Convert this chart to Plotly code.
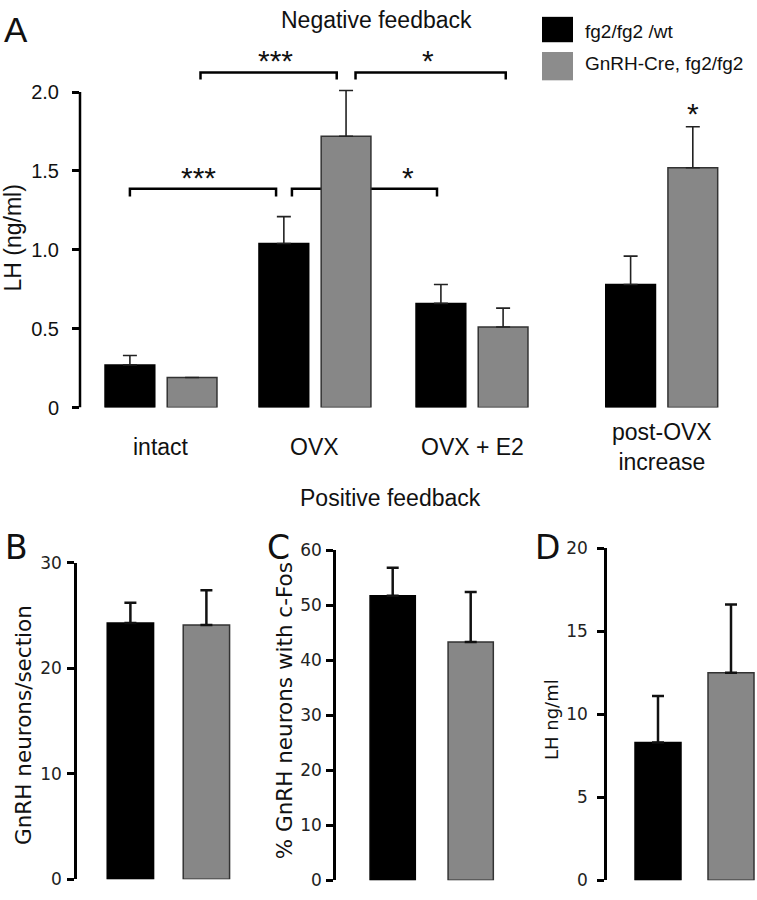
import plotly.graph_objects as go

# ---- data ----
groups_a = ["intact", "OVX", "OVX + E2", "post-OVX<br>increase"]
wt_lh = [0.27, 1.04, 0.66, 0.78]
wt_sem = [0.06, 0.17, 0.12, 0.18]
cre_lh = [0.19, 1.72, 0.51, 1.52]
cre_sem = [0.0, 0.29, 0.12, 0.26]

neurons = [24.3, 24.1]          # B: GnRH neurons/section
neurons_sem = [1.9, 3.3]
cfos = [51.7, 43.3]             # C: % GnRH neurons with c-Fos
cfos_sem = [5.1, 9.1]
lh_surge = [8.3, 12.5]          # D: LH ng/ml
lh_surge_sem = [2.8, 4.1]

W, H = 757, 900
BLACK = "#000000"
GRAY = "#878787"
ARIAL = "Liberation Sans, Arial, sans-serif"
VERD = "DejaVu Sans, Verdana, sans-serif"


def px(x):
    return x / W


def py(y):
    return 1 - y / H


fig = go.Figure()

# ---- panel A ----
pos_a = [0, 0.99, 2.0, 3.22]
bw = 0.32
for vals, sem, col, lc, off in [(wt_lh, wt_sem, BLACK, BLACK, -0.36),
                                (cre_lh, cre_sem, GRAY, "#333333", 0.04)]:
    fig.add_trace(go.Bar(
        x=pos_a, y=vals, width=bw, offset=off,
        marker=dict(color=col, line=dict(color=lc, width=1.5)),
        error_y=dict(type="data", symmetric=False,
                     array=[s if s > 0 else None for s in sem],
                     arrayminus=[0] * len(sem),
                     color="#222222", thickness=1.6, width=7),
        xaxis="x", yaxis="y", showlegend=False))

# ---- panels B, C, D ----
bottom = [("2", neurons, neurons_sem, 0.61),
          ("3", cfos, cfos_sem, 0.58),
          ("4", lh_surge, lh_surge_sem, 0.63)]
for ax, vals, sem, w in bottom:
    fig.add_trace(go.Bar(
        x=[0, 1], y=vals, width=w,
        marker=dict(color=[BLACK, GRAY], line=dict(color=[BLACK, "#333333"], width=1.5)),
        error_y=dict(type="data", symmetric=False, array=sem, arrayminus=[0, 0],
                     color="#111111", thickness=2.5, width=6),
        xaxis="x" + ax, yaxis="y" + ax, showlegend=False))

unit_a = 155.5
yunit_a = 161.5
noax = dict(showgrid=False, zeroline=False, showticklabels=False, ticks="", showline=False)

fig.update_layout(
    width=W, height=H, autosize=False,
    margin=dict(l=0, r=0, t=0, b=0),
    paper_bgcolor="white", plot_bgcolor="white",
    barmode="overlay",
    xaxis=dict(domain=[px(80), 1], range=[(80 - 161) / unit_a, (757 - 161) / unit_a],
               anchor="y", **noax),
    yaxis=dict(domain=[py(407), py(39)], range=[0, (407 - 39) / yunit_a], anchor="x",
               tickvals=[0, 0.5, 1, 1.5, 2], ticktext=["0", "0.5", "1.0", "1.5", "2.0"],
               ticks="outside", ticklen=7, tickwidth=2.5, tickcolor="black",
               ticklabelstandoff=9,
               tickfont=dict(family=ARIAL, size=20, color="#111111"),
               showgrid=False, zeroline=False, showline=False),
    xaxis2=dict(domain=[px(77), px(265)], range=[(77 - 130.4) / 76, (265 - 130.4) / 76],
                anchor="y2", **noax),
    yaxis2=dict(domain=[py(890), py(566)], range=[0, 30], anchor="x2",
                tickvals=[0, 10, 20, 30]),
    xaxis3=dict(domain=[px(336), px(525)], range=[(336 - 392.7) / 78, (525 - 392.7) / 78],
                anchor="y3", **noax),
    yaxis3=dict(domain=[py(891), py(553)], range=[0, 60], anchor="x3",
                tickvals=[0, 10, 20, 30, 40, 50, 60]),
    xaxis4=dict(domain=[px(607), 1], range=[(607 - 658) / 73, (757 - 658) / 73],
                anchor="y4", **noax),
    yaxis4=dict(domain=[py(891), py(551)], range=[0, 20], anchor="x4",
                tickvals=[0, 5, 10, 15, 20]),
)
for name, so in [("yaxis2", 2), ("yaxis3", 1), ("yaxis4", 6)]:
    fig.layout[name].update(
        ticks="outside", ticklen=7, tickwidth=2.5, tickcolor="black",
        showline=True, linewidth=2.5, linecolor="black",
        ticklabelstandoff=so,
        tickfont=dict(family=VERD, size=17, color="#222222"),
        showgrid=False, zeroline=False)

shapes = []
# panel A axis line, only up to 2.0
shapes.append(dict(type="line", xref="x domain", yref="y", x0=0, x1=0, y0=0, y1=2.0,
                   line=dict(color="black", width=2.5)))


def bracket(x0, x1, y, drop):
    return dict(type="path", xref="x", yref="y", layer="below",
                path=f"M {x0},{y - drop} L {x0},{y} L {x1},{y} L {x1},{y - drop}",
                line=dict(color="black", width=2.5))


shapes += [bracket(-0.2, 0.74, 1.387, 0.05),
           bracket(0.842, 1.775, 1.387, 0.05),
           bracket(0.254, 1.13, 2.124, 0.045),
           bracket(1.251, 2.217, 2.124, 0.045)]

# legend boxes
shapes.append(dict(type="rect", xref="paper", yref="paper", x0=px(542), x1=px(573),
                   y0=py(33), y1=py(7), fillcolor=BLACK, line=dict(width=0)))
shapes.append(dict(type="rect", xref="paper", yref="paper", x0=px(542), x1=px(573),
                   y0=py(72), y1=py(43), fillcolor="#8c8c8c", line=dict(width=0)))

ann = []


def txt(text, x, y, size, family=ARIAL, xanchor="center", angle=0, xref="paper"):
    ann.append(dict(text=text, x=x, y=py(y), xref=xref, yref="paper", showarrow=False,
                    xanchor=xanchor, yanchor="middle", textangle=angle,
                    font=dict(family=family, size=size, color="#111111")))


txt("Negative feedback", px(376), 10.5, 23)
txt("Positive feedback", px(390), 500, 23)
txt("A", px(2), 20, 35, xanchor="left")
txt("B", px(3), 550, 33, family=VERD, xanchor="left")
txt("C", px(265), 550, 33, family=VERD, xanchor="left")
txt("D", px(533), 550, 33, family=VERD, xanchor="left")
txt("fg2/fg2 /wt", px(583), 22, 19, xanchor="left")
txt("GnRH-Cre, fg2/fg2", px(583), 55, 19, xanchor="left")
txt("LH (ng/ml)", px(13), 234, 23, angle=-90)
txt("GnRH neurons/section", px(24), 732, 21.5, family=VERD, angle=-90)
txt("% GnRH neurons with c-Fos", px(284), 718, 21.5, family=VERD, angle=-90)
txt("LH ng/ml", px(551), 727, 18, family=VERD, angle=-90)
for g, p in zip(groups_a, pos_a):
    txt(g, p, 447, 23, xref="x")

# significance stars
for s, x, y in [("***", 0.244, 1.387), ("*", 1.59, 1.387),
                ("***", 0.735, 2.124), ("*", 1.714, 2.124), ("*", 3.42, 1.79)]:
    ann.append(dict(text=s, x=x, y=y, xref="x", yref="y", showarrow=False,
                    xanchor="center", yanchor="bottom", yshift=-7,
                    font=dict(family=ARIAL, size=30, color="#111111")))

fig.update_layout(shapes=shapes, annotations=ann)
fig.write_html("out.html", config={"displayModeBar": False},
               post_script="document.body.style.margin='0px';")
